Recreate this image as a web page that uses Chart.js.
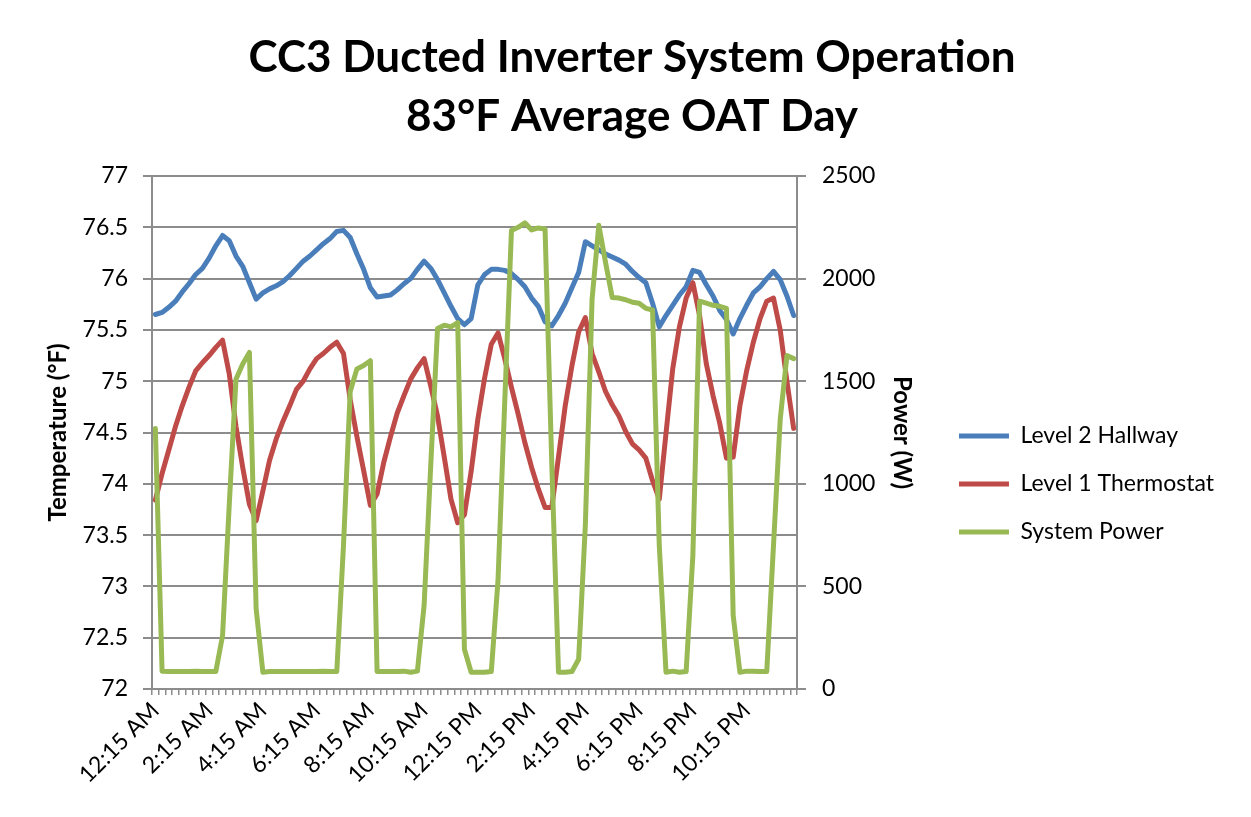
<!DOCTYPE html>
<html>
<head>
<meta charset="utf-8">
<script src="https://cdn.jsdelivr.net/npm/chart.js@4.4.1/dist/chart.umd.min.js"></script>
<style>
  html, body { margin: 0; padding: 0; background: #fff; }
  #wrap { width: 1251px; height: 817px; position: relative; }
</style>
</head>
<body>
<div id="wrap"><canvas id="chart"></canvas></div>
<script>
// 15-minute intervals, 12:15 AM .. 12:00 AM
const timeLabels = [];
for (let m = 15; m <= 24 * 60; m += 15) {
  const h = Math.floor(m / 60) % 24;
  const mm = String(m % 60).padStart(2, "0");
  timeLabels.push(`${h % 12 || 12}:${mm} ${h < 12 ? "AM" : "PM"}`);
}

const level2Hallway = [
  75.65, 75.67, 75.72, 75.78, 75.87, 75.95, 76.04, 76.1, 76.2, 76.32,
  76.42, 76.37, 76.22, 76.12, 75.96, 75.8, 75.86, 75.9, 75.93, 75.97,
  76.03, 76.1, 76.17, 76.22, 76.28, 76.34, 76.39, 76.46, 76.47, 76.4,
  76.24, 76.09, 75.91, 75.82, 75.83, 75.84, 75.89, 75.95, 76.0, 76.09,
  76.17, 76.1, 75.99, 75.86, 75.73, 75.61, 75.55, 75.61, 75.94, 76.04,
  76.09, 76.09, 76.08, 76.05, 75.99, 75.92, 75.81, 75.73, 75.58, 75.54,
  75.64, 75.76, 75.91, 76.06, 76.36, 76.32, 76.28, 76.24, 76.21, 76.18,
  76.14, 76.07, 76.01, 75.96, 75.76, 75.53, 75.64, 75.74, 75.84, 75.92,
  76.08, 76.06, 75.94, 75.83, 75.69, 75.6, 75.46, 75.61, 75.74, 75.86,
  75.92, 76.0, 76.07, 75.99, 75.83, 75.64
];

const level1Thermostat = [
  73.84, 74.1, 74.33, 74.56, 74.76, 74.94, 75.1, 75.18, 75.25, 75.33,
  75.4, 75.07, 74.56, 74.16, 73.8, 73.64, 73.93, 74.23, 74.44, 74.61,
  74.76, 74.92, 75.0, 75.12, 75.22, 75.27, 75.33, 75.38, 75.27, 74.82,
  74.46, 74.13, 73.79, 73.9, 74.21, 74.46, 74.69, 74.86, 75.02, 75.13,
  75.22, 74.95, 74.66, 74.26, 73.85, 73.62, 73.7, 74.12, 74.63, 75.03,
  75.36, 75.47, 75.22, 74.94, 74.68, 74.4, 74.16, 73.95, 73.77, 73.77,
  74.26, 74.76, 75.15, 75.48, 75.62, 75.27, 75.09, 74.9, 74.77, 74.66,
  74.51, 74.39, 74.33, 74.25, 74.03, 73.85, 74.49, 75.12, 75.53, 75.81,
  75.96, 75.64, 75.17, 74.86, 74.59, 74.25, 74.26, 74.76, 75.1, 75.38,
  75.61, 75.78, 75.81, 75.5, 75.0, 74.54
];

const systemPower = [
  1270, 87, 85, 85, 85, 85, 87, 85, 85, 85,
  260, 900, 1510, 1584, 1640, 391, 82, 85, 85, 85,
  85, 85, 85, 85, 85, 87, 85, 85, 700, 1450,
  1560, 1576, 1600, 85, 85, 85, 85, 87, 82, 87,
  408, 1100, 1757, 1773, 1765, 1786, 194, 82, 82, 82,
  85, 530, 1400, 2234, 2250, 2272, 2237, 2247, 2242, 1100,
  82, 82, 85, 145, 800, 1900, 2260, 2080, 1908, 1905,
  1897, 1885, 1880, 1855, 1847, 700, 82, 87, 82, 85,
  650, 1890, 1880, 1870, 1865, 1855, 359, 82, 87, 87,
  85, 85, 700, 1313, 1625, 1610
];

const tempTicks = { min: 72, max: 77, step: 0.5 };
const powerTicks = { min: 0, max: 2500, step: 500 };
const titleLines = ["CC3 Ducted Inverter System Operation", "83\u00B0F Average OAT Day"];

const FONT = "Lato, 'Open Sans', 'Liberation Sans', sans-serif";
const GRID = "#8c8c8c";
const LINE_W = 5;
const TICK_SIZE = 23;
const AXIS_TITLE_SIZE = 24;
Chart.defaults.font.family = FONT;
Chart.defaults.color = "#000";

const PAD_L = 40, PAD_R = 27;
const PLOT_L = 152, PLOT_R = 797, PLOT_B = 689;

new Chart(document.getElementById("chart"), {
  type: "line",
  data: {
    labels: timeLabels,
    datasets: [
      { label: "Level 2 Hallway", data: level2Hallway, borderColor: "#4A7EBB", borderWidth: LINE_W, yAxisID: "y", order: 3 },
      { label: "Level 1 Thermostat", data: level1Thermostat, borderColor: "#BE4B48", borderWidth: LINE_W, yAxisID: "y", order: 2 },
      { label: "System Power", data: systemPower, borderColor: "#98B954", borderWidth: LINE_W, yAxisID: "y1", order: 1 },
    ],
  },
  options: {
    responsive: true,
    maintainAspectRatio: false,
    animation: false,
    devicePixelRatio: 1,
    layout: { padding: { left: PAD_L, right: PAD_R, top: 0, bottom: 0 } },
    elements: {
      line: { tension: 0, borderJoinStyle: "round", borderCapStyle: "round", fill: false },
      point: { radius: 0, hoverRadius: 0 },
    },
    plugins: {
      tooltip: { enabled: false },
      title: {
        display: true,
        text: titleLines,
        font: { size: 44, weight: "bold", lineHeight: 59 / 44 },
        padding: { top: 28.5, bottom: 29.5 },
        color: "#000",
      },
      legend: {
        position: "right",
        maxWidth: 340,
        title: { display: true, text: "", font: { size: 20 }, padding: { top: 127, bottom: 0 } },
        labels: {
          font: { size: 23 },
          padding: 25,
          usePointStyle: true,
          pointStyle: "line",
          pointStyleWidth: 50,
          sort: (a, b) => a.datasetIndex - b.datasetIndex,
        },
      },
    },
    scales: {
      x: {
        type: "category",
        offset: true,
        grid: { display: true, drawOnChartArea: false, offset: true, tickLength: 6, color: GRID, lineWidth: 1.5 },
        border: { display: true, color: GRID, width: 2 },
        ticks: {
          autoSkip: false,
          minRotation: 45,
          maxRotation: 45,
          padding: 2,
          font: { size: TICK_SIZE },
          callback: (v, i) => (i % 8 === 0 ? timeLabels[i] : ""),
        },
        afterFit: (s) => { s.height = 817 - PLOT_B; },
      },
      y: {
        position: "left",
        min: tempTicks.min,
        max: tempTicks.max,
        ticks: { stepSize: tempTicks.step, padding: 15, font: { size: TICK_SIZE }, callback: (v) => String(v) },
        grid: { color: GRID, lineWidth: 2, tickLength: 9 },
        border: { display: true, color: GRID, width: 2 },
        title: { display: true, text: "Temperature (\u00B0F)", font: { size: AXIS_TITLE_SIZE, weight: "bold" }, padding: { top: 4, bottom: 0 } },
        afterFit: (s) => { s.width = PLOT_L - PAD_L; },
      },
      y1: {
        position: "right",
        min: powerTicks.min,
        max: powerTicks.max,
        ticks: { stepSize: powerTicks.step, padding: 16, font: { size: TICK_SIZE }, callback: (v) => String(v) },
        grid: { drawOnChartArea: false, color: GRID, lineWidth: 2, tickLength: 9 },
        border: { display: true, color: GRID, width: 2 },
        title: { display: true, text: "Power (W)", font: { size: AXIS_TITLE_SIZE, weight: "bold" }, padding: { top: 18, bottom: 0 } },
        afterFit: (s) => {
          const lw = s.chart.legend ? s.chart.legend.width : 0;
          s.width = 1251 - PAD_R - lw - PLOT_R;
        },
      },
    },
  },
});
</script>
</body>
</html>
